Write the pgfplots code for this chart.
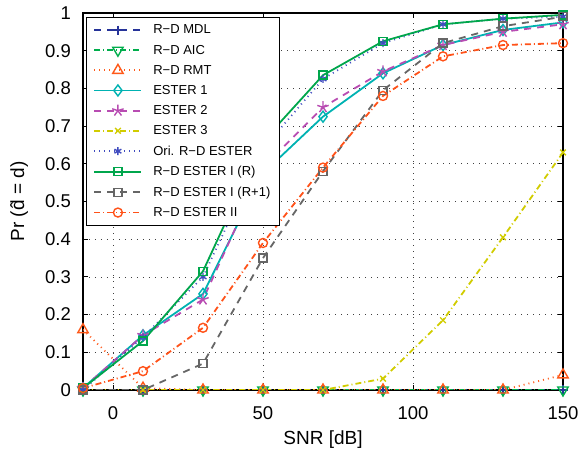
\documentclass[border=0pt]{standalone}
\usepackage{pgfplots}
\pgfplotsset{compat=1.18}
\usepackage{fontspec}
\setmainfont{Liberation Sans}
\usetikzlibrary{plotmarks}
\definecolor{cmdl}{rgb}{0.15,0.2,0.6}
\definecolor{caic}{rgb}{0.0,0.68,0.3}
\definecolor{crmt}{rgb}{1.0,0.35,0.1}
\definecolor{ce1}{rgb}{0.0,0.7,0.7}
\definecolor{ce2}{rgb}{0.72,0.3,0.7}
\definecolor{ce3}{rgb}{0.82,0.8,0.0}
\definecolor{cori}{rgb}{0.25,0.3,0.75}
\definecolor{cr}{rgb}{0.0,0.65,0.3}
\definecolor{cr1}{rgb}{0.4,0.4,0.4}
\definecolor{cii}{rgb}{1.0,0.32,0.1}
\tikzset{pl/.style={line width=1.8pt, mark size=4.2pt, every mark/.append style={solid, line width=1.4pt}}}
\begin{document}
\begin{tikzpicture}
\begin{axis}[name=ax,
  scale only axis, width=480pt, height=377pt,
  xmin=-10, xmax=150, ymin=0, ymax=1,
  xtick={0,50,100,150},
  ytick={0,0.1,0.2,0.3,0.4,0.5,0.6,0.7,0.8,0.9,1},
  /pgf/number format/assume math mode=true,
  xticklabel style={font=\fontsize{18.5}{20}\selectfont, anchor=north, inner sep=0pt, yshift=-16pt},
  yticklabel style={font=\fontsize{18.5}{20}\selectfont, anchor=east, inner sep=0pt, xshift=-12pt},
  xlabel={SNR [dB]}, ylabel={Pr (\^{d} = d)},
  xlabel style={font=\fontsize{19}{21}\selectfont, at={(axis description cs:0.5,-0.1326)}, anchor=center},
  ylabel style={font=\fontsize{19}{21}\selectfont, at={(axis description cs:-0.133,0.5)}, anchor=center, rotate=0},
  tick align=inside, major tick length=5pt,
  tick style={black, line width=0.8pt},
  axis line style={line width=1.4pt},
  grid=major, major grid style={black!75, line width=0.6pt, dash pattern=on 0.8pt off 5.2pt},
  legend style={at={(0.006,0.99)}, anchor=north west, font=\fontsize{13}{14}\selectfont,
    draw=black, line width=1.3pt, inner xsep=7pt, inner ysep=5.5pt, row sep=5.6pt, cells={anchor=west},
    /tikz/every odd column/.append style={column sep=9pt}},
  legend cell align=left,
  legend image code/.code={\draw[mark repeat=2,mark phase=2] plot coordinates {(0pt,0pt)(23.5pt,0pt)(47pt,0pt)};},
]
\addplot[pl, cmdl, dash pattern=on 7pt off 6pt, mark=+, mark size=4.5pt] coordinates {(-10,0)(10,0)(30,0)(50,0)(70,0)(90,0)(110,0)(130,0)(150,0)};
\addlegendentry{R−D MDL}
\addplot[pl, caic, dash pattern=on 6pt off 3pt on 1pt off 3pt, mark=triangle, mark size=6pt, every mark/.append style={rotate=180}] coordinates {(-10,0)(10,0)(30,0)(50,0)(70,0)(90,0)(110,0)(130,0)(150,0)};
\addlegendentry{R−D AIC}
\addplot[pl, crmt, dash pattern=on 1pt off 4pt, mark=triangle, mark size=6pt] coordinates {(-10,0.16)(10,0.005)(30,0)(50,0)(70,0)(90,0)(110,0)(130,0)(150,0.04)};
\addlegendentry{R−D RMT}
\addplot[pl, ce1, solid, mark=diamond, mark size=5.5pt] coordinates {(-10,0.005)(10,0.145)(30,0.255)(50,0.575)(70,0.725)(90,0.84)(110,0.915)(130,0.955)(150,0.975)};
\addlegendentry{ESTER 1}
\addplot[pl, ce2, dash pattern=on 7pt off 6pt, mark=star, mark size=6pt, every mark/.append style={fill=ce2}] coordinates {(-10,0.005)(10,0.145)(30,0.24)(50,0.59)(70,0.75)(90,0.845)(110,0.915)(130,0.95)(150,0.97)};
\addlegendentry{ESTER 2}
\addplot[pl, ce3, dash pattern=on 6pt off 3pt on 1pt off 3pt, mark=x, mark size=4pt] coordinates {(-10,0)(10,0)(30,0)(50,0)(70,0)(90,0.03)(110,0.185)(130,0.405)(150,0.63)};
\addlegendentry{ESTER 3}
\addplot[pl, cori, dash pattern=on 1pt off 4pt, mark=asterisk, mark size=4pt] coordinates {(-10,0)(10,0.14)(30,0.30)(50,0.64)(70,0.825)(90,0.92)(110,0.97)(130,0.985)(150,0.99)};
\addlegendentry{Ori. R−D ESTER}
\addplot[pl, cr, solid, mark=square, mark size=4pt] coordinates {(-10,0.005)(10,0.13)(30,0.315)(50,0.66)(70,0.835)(90,0.925)(110,0.97)(130,0.985)(150,0.995)};
\addlegendentry{R−D ESTER I (R)}
\addplot[pl, cr1, dash pattern=on 7pt off 6pt, mark=square, mark size=4pt] coordinates {(-10,0)(10,0)(30,0.07)(50,0.35)(70,0.58)(90,0.795)(110,0.92)(130,0.965)(150,0.99)};
\addlegendentry{R−D ESTER I (R+1)}
\addplot[pl, cii, dash pattern=on 6pt off 3pt on 1pt off 3pt, mark=o, mark size=4.5pt] coordinates {(-10,0.005)(10,0.05)(30,0.165)(50,0.39)(70,0.59)(90,0.78)(110,0.885)(130,0.915)(150,0.92)};
\addlegendentry{R−D ESTER II}
\end{axis}
\pgfresetboundingbox
\path[use as bounding box] ([shift={(-83pt,-64pt)}]ax.south west) rectangle ([shift={(18pt,13pt)}]ax.north east);
\end{tikzpicture}
\end{document}
